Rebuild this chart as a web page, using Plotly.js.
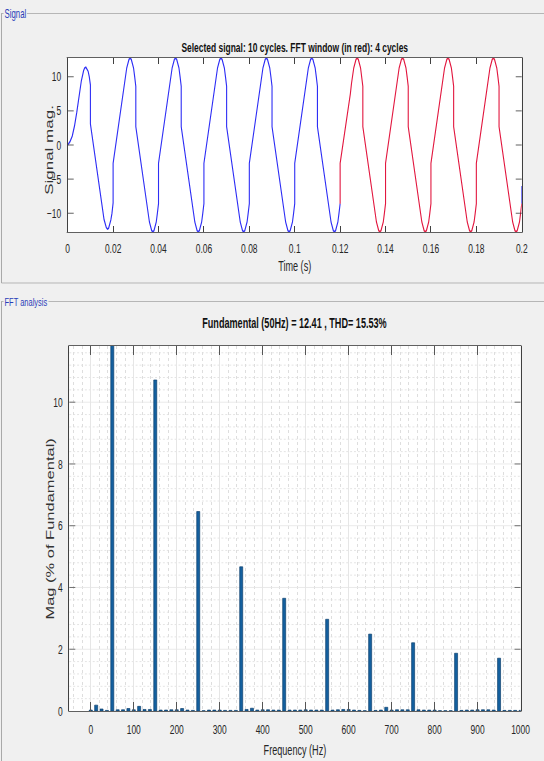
<!DOCTYPE html>
<html>
<head>
<meta charset="utf-8">
<script src="https://cdn.plot.ly/plotly-3.0.1.min.js"></script>
<style>
  html, body { margin: 0; padding: 0; background: #f0f0f0; overflow: hidden; width: 544px; height: 761px; }
  /* the figure is laid out wide and compressed horizontally, giving the condensed GUI look */
  #fig { width: 837px; height: 761px; transform: scaleX(0.65); transform-origin: 0 0; }
</style>
</head>
<body>
<div id="fig"></div>
<script>
// ---- signal (10 cycles of 50 Hz), sampled points incl. the steps at each half cycle ----
const timeS = [
  0, 0.001, 0.002, 0.003, 0.004, 0.0045, 0.005, 0.006, 0.007, 0.0075, 0.008, 0.009, 0.0095, 0.01, 0.01, 0.0145, 0.015, 0.016, 0.017, 0.0175, 0.018, 0.019, 0.0195,
  0.02, 0.02, 0.0245, 0.025, 0.026, 0.027, 0.0275, 0.028, 0.029, 0.0295, 0.03, 0.03, 0.0345, 0.035, 0.036, 0.037, 0.0375, 0.038, 0.039, 0.0395,
  0.04, 0.04, 0.0445, 0.045, 0.046, 0.047, 0.0475, 0.048, 0.049, 0.0495, 0.05, 0.05, 0.0545, 0.055, 0.056, 0.057, 0.0575, 0.058, 0.059, 0.0595,
  0.06, 0.06, 0.0645, 0.065, 0.066, 0.067, 0.0675, 0.068, 0.069, 0.0695, 0.07, 0.07, 0.0745, 0.075, 0.076, 0.077, 0.0775, 0.078, 0.079, 0.0795,
  0.08, 0.08, 0.0845, 0.085, 0.086, 0.087, 0.0875, 0.088, 0.089, 0.0895, 0.09, 0.09, 0.0945, 0.095, 0.096, 0.097, 0.0975, 0.098, 0.099, 0.0995,
  0.1, 0.1, 0.1045, 0.105, 0.106, 0.107, 0.1075, 0.108, 0.109, 0.1095, 0.11, 0.11, 0.1145, 0.115, 0.116, 0.117, 0.1175, 0.118, 0.119, 0.1195,
  0.12, 0.12, 0.1245, 0.125, 0.126, 0.127, 0.1275, 0.128, 0.129, 0.1295, 0.13, 0.13, 0.1345, 0.135, 0.136, 0.137, 0.1375, 0.138, 0.139, 0.1395,
  0.14, 0.14, 0.1445, 0.145, 0.146, 0.147, 0.1475, 0.148, 0.149, 0.1495, 0.15, 0.15, 0.1545, 0.155, 0.156, 0.157, 0.1575, 0.158, 0.159, 0.1595,
  0.16, 0.16, 0.1645, 0.165, 0.166, 0.167, 0.1675, 0.168, 0.169, 0.1695, 0.17, 0.17, 0.1745, 0.175, 0.176, 0.177, 0.1775, 0.178, 0.179, 0.1795,
  0.18, 0.18, 0.1845, 0.185, 0.186, 0.187, 0.1875, 0.188, 0.189, 0.1895, 0.19, 0.19, 0.1945, 0.195, 0.196, 0.197, 0.1975, 0.198, 0.199, 0.1995,
  0.2, 0.2
];
const signalMag = [
  0, 0.5, 1.3, 2.8, 4.8, 6.0, 7.3, 9.4, 10.9, 11.3, 11.4, 10.8, 10.0, 8.8, 3.1, -7.3, -8.7, -10.9, -12.1, -12.3, -12.2, -11.0, -10.0,
  -8.5, -2.7, 7.5, 9.0, 11.3, 12.55, 12.7, 12.55, 11.3, 10.0, 8.6, 2.7, -7.5, -9.0, -11.3, -12.55, -12.7, -12.55, -11.3, -10.0,
  -8.6, -2.7, 7.5, 9.0, 11.3, 12.55, 12.7, 12.55, 11.3, 10.0, 8.6, 2.7, -7.5, -9.0, -11.3, -12.55, -12.7, -12.55, -11.3, -10.0,
  -8.6, -2.7, 7.5, 9.0, 11.3, 12.55, 12.7, 12.55, 11.3, 10.0, 8.6, 2.7, -7.5, -9.0, -11.3, -12.55, -12.7, -12.55, -11.3, -10.0,
  -8.6, -2.7, 7.5, 9.0, 11.3, 12.55, 12.7, 12.55, 11.3, 10.0, 8.6, 2.7, -7.5, -9.0, -11.3, -12.55, -12.7, -12.55, -11.3, -10.0,
  -8.6, -2.7, 7.5, 9.0, 11.3, 12.55, 12.7, 12.55, 11.3, 10.0, 8.6, 2.7, -7.5, -9.0, -11.3, -12.55, -12.7, -12.55, -11.3, -10.0,
  -8.6, -2.7, 7.5, 9.0, 11.3, 12.55, 12.7, 12.55, 11.3, 10.0, 8.6, 2.7, -7.5, -9.0, -11.3, -12.55, -12.7, -12.55, -11.3, -10.0,
  -8.6, -2.7, 7.5, 9.0, 11.3, 12.55, 12.7, 12.55, 11.3, 10.0, 8.6, 2.7, -7.5, -9.0, -11.3, -12.55, -12.7, -12.55, -11.3, -10.0,
  -8.6, -2.7, 7.5, 9.0, 11.3, 12.55, 12.7, 12.55, 11.3, 10.0, 8.6, 2.7, -7.5, -9.0, -11.3, -12.55, -12.7, -12.55, -11.3, -10.0,
  -8.6, -2.7, 7.5, 9.0, 11.3, 12.55, 12.7, 12.55, 11.3, 10.0, 8.6, 2.7, -7.5, -9.0, -11.3, -12.55, -12.7, -12.55, -11.3, -10.0,
  -8.6, -6.0
];
// FFT window: the last 4 cycles
const fftWindowStart = 0.12;
const fftWindowEnd = 0.2;

const timeTicks = [0, 0.02, 0.04, 0.06, 0.08, 0.1, 0.12, 0.14, 0.16, 0.18, 0.2];
const signalTicks = [-10, -5, 0, 5, 10];

// ---- spectrum, 12.5 Hz bins, magnitude in % of fundamental ----
const fftFreqHz = [
  0, 12.5, 25, 37.5, 50, 62.5, 75, 87.5, 100, 112.5, 125, 137.5, 150, 162.5, 175, 187.5,
  200, 212.5, 225, 237.5, 250, 262.5, 275, 287.5, 300, 312.5, 325, 337.5, 350, 362.5, 375, 387.5,
  400, 412.5, 425, 437.5, 450, 462.5, 475, 487.5, 500, 512.5, 525, 537.5, 550, 562.5, 575, 587.5,
  600, 612.5, 625, 637.5, 650, 662.5, 675, 687.5, 700, 712.5, 725, 737.5, 750, 762.5, 775, 787.5,
  800, 812.5, 825, 837.5, 850, 862.5, 875, 887.5, 900, 912.5, 925, 937.5, 950, 962.5, 975, 987.5, 1000
];
const fftMagPct = [
  0.03, 0.19, 0.065, 0.02, 100, 0.04, 0.04, 0.08, 0.04, 0.15, 0.05, 0.05, 10.72, 0.03, 0.03, 0.04,
  0.04, 0.08, 0.03, 0.02, 6.46, 0.01, 0.03, 0.03, 0.03, 0.02, 0.02, 0.02, 4.67, 0.05, 0.09, 0.03,
  0.04, 0.04, 0.03, 0.03, 3.65, 0.03, 0.03, 0.03, 0.04, 0.03, 0.03, 0.03, 2.97, 0.03, 0.04, 0.05,
  0.05, 0.03, 0.02, 0.01, 2.49, 0.02, 0.03, 0.12, 0.03, 0.04, 0.04, 0.04, 2.21, 0.04, 0.03, 0.03,
  0.03, 0.01, 0.01, 0.01, 1.87, 0.02, 0.03, 0.03, 0.04, 0.04, 0.04, 0.03, 1.71, 0.02, 0.02, 0.02, 0.02
];
const fundamentalHz = 50;
const fundamentalMag = 12.41;
const thdPct = 15.53;

// ---- layout helpers (pixel positions of the 544 x 761 window) ----
const SQUEEZE = 0.65;
const W = 544, H = 761;
const px = x => x / W;
const py = y => 1 - y / H;
const vw = w => w / SQUEEZE;          // keeps vertical strokes at their visible width

const ink = '#262626';
const family = 'Liberation Sans, Arial, sans-serif';
const tickFont = { family: family, size: 13, color: ink };
const labelFont = { family: family, size: 14, color: ink };
const yLabelFont = { family: family, size: 17, color: '#333' };

// red overlay = samples inside the FFT window; the blue trace stops where the window begins
// and only its final step after 0.2 s remains visible
const winFirst = timeS.findIndex(t => t >= fftWindowStart);
let winLast = timeS.length - 1;
while (timeS[winLast] > fftWindowEnd || (timeS[winLast] === timeS[winLast - 1])) winLast--;

const blueX = timeS.slice(0, winFirst + 1).concat([null], timeS.slice(winLast));
const blueY = signalMag.slice(0, winFirst + 1).concat([null], signalMag.slice(winLast));

const traces = [
  {
    x: blueX, y: blueY, type: 'scatter', mode: 'lines', connectgaps: false,
    line: { color: '#2e2ef5', width: 1.7 }, xaxis: 'x', yaxis: 'y', hoverinfo: 'skip'
  },
  {
    x: timeS.slice(winFirst, winLast + 1), y: signalMag.slice(winFirst, winLast + 1),
    type: 'scatter', mode: 'lines',
    line: { color: '#e2173f', width: 1.7 }, xaxis: 'x', yaxis: 'y', hoverinfo: 'skip'
  },
  {
    x: fftFreqHz, y: fftMagPct, type: 'bar', width: 7,
    marker: { color: '#14609f', line: { color: '#0b3d6b', width: 0.8 } },
    xaxis: 'x2', yaxis: 'y2', hoverinfo: 'skip'
  }
];

const boxAxis = {
  showline: true, linecolor: '#404040', mirror: 'allticks', ticks: 'inside',
  zeroline: false, tickfont: tickFont, fixedrange: true
};

const layout = {
  width: Math.round(W / SQUEEZE), height: H,
  margin: { l: 0, r: 0, t: 0, b: 0 },
  paper_bgcolor: '#f0f0f0', plot_bgcolor: '#ffffff',
  showlegend: false,
  xaxis: Object.assign({}, boxAxis, {
    domain: [px(67.7), px(521.7)], anchor: 'y', range: [0, 0.2],
    tickvals: timeTicks, ticklen: 6, tickwidth: vw(1), linewidth: 1, tickcolor: '#404040',
    showgrid: false, ticklabelstandoff: 4,
    title: { text: 'Time (s)', font: labelFont, standoff: 6 }
  }),
  yaxis: Object.assign({}, boxAxis, {
    domain: [py(232), py(58)], anchor: 'x', range: [-12.75, 12.75],
    tickvals: signalTicks, ticklen: vw(6), tickwidth: 1, linewidth: vw(1), tickcolor: '#404040',
    showgrid: false, ticklabelstandoff: 6
  }),
  xaxis2: Object.assign({}, boxAxis, {
    domain: [px(69.3), px(520.5)], anchor: 'y2', range: [-50, 1000],
    tick0: 0, dtick: 100, ticklen: 9, tickwidth: vw(1), linewidth: 1, tickcolor: '#555',
    showgrid: true, gridcolor: '#e6e6e6', gridwidth: vw(1),
    minor: { tick0: 0, dtick: 20, showgrid: true, gridcolor: '#dedede', griddash: 'dot', gridwidth: vw(1) },
    ticklabelstandoff: 6,
    title: { text: 'Frequency (Hz)', font: labelFont, standoff: 9 }
  }),
  yaxis2: Object.assign({}, boxAxis, {
    domain: [py(711), py(346)], anchor: 'x2', range: [0, 11.82],
    tick0: 0, dtick: 2, ticklen: vw(6), tickwidth: 1, linewidth: vw(1), tickcolor: '#555',
    showgrid: true, gridcolor: '#e6e6e6', gridwidth: 1,
    minor: { tick0: 0, dtick: 0.4, showgrid: true, gridcolor: '#dedede', griddash: 'dot', gridwidth: 1 },
    ticklabelstandoff: 6
  }),
  shapes: [
    // "Signal" group box
    { type: 'line', xref: 'paper', yref: 'paper', x0: px(1), x1: 1, y0: py(13.5), y1: py(13.5), line: { color: '#a9a9a9', width: 1 } },
    { type: 'line', xref: 'paper', yref: 'paper', x0: px(1.5), x1: px(1.5), y0: py(13.5), y1: py(283), line: { color: '#a9a9a9', width: vw(1) } },
    { type: 'line', xref: 'paper', yref: 'paper', x0: px(1.5), x1: 1, y0: py(283), y1: py(283), line: { color: '#a9a9a9', width: 1 } },
    // "FFT analysis" group box
    { type: 'line', xref: 'paper', yref: 'paper', x0: px(1), x1: 1, y0: py(301.5), y1: py(301.5), line: { color: '#a9a9a9', width: 1 } },
    { type: 'line', xref: 'paper', yref: 'paper', x0: px(1.5), x1: px(1.5), y0: py(301.5), y1: 0, line: { color: '#a9a9a9', width: vw(1) } }
  ],
  annotations: [
    { text: 'Signal', xref: 'paper', yref: 'paper', x: px(3), y: py(14), xanchor: 'left', yanchor: 'middle',
      showarrow: false, bgcolor: '#f0f0f0', borderpad: 1, font: { family: family, size: 12, color: '#2a3cb8' } },
    { text: 'FFT analysis', xref: 'paper', yref: 'paper', x: px(3), y: py(302), xanchor: 'left', yanchor: 'middle',
      showarrow: false, bgcolor: '#f0f0f0', borderpad: 1, font: { family: family, size: 11.5, color: '#2a3cb8' } },
    { text: 'Selected signal: 10 cycles. FFT window (in red): 4 cycles', xref: 'paper', yref: 'paper',
      x: px(294.7), y: py(47), xanchor: 'center', yanchor: 'middle', showarrow: false,
      font: { family: family, size: 13, color: '#111', weight: 'bold' } },
    { text: 'Fundamental (' + fundamentalHz + 'Hz) = ' + fundamentalMag.toFixed(2) + ' , THD= ' + thdPct.toFixed(2) + '%',
      xref: 'paper', yref: 'paper', x: px(294.9), y: py(323), xanchor: 'center', yanchor: 'middle', showarrow: false,
      font: { family: family, size: 14, color: '#111', weight: 'bold' } },
    // vertical axis labels
    { text: 'Signal mag.', xref: 'paper', yref: 'paper', x: px(49.3), y: py(150), xanchor: 'center', yanchor: 'middle',
      textangle: -90, showarrow: false, font: yLabelFont },
    { text: 'Mag (% of Fundamental)', xref: 'paper', yref: 'paper', x: px(49.5), y: py(528.5), xanchor: 'center', yanchor: 'middle',
      textangle: -90, showarrow: false, font: { family: family, size: 16.5, color: '#333' } }
  ]
};

Plotly.newPlot('fig', traces, layout, { staticPlot: true, displayModeBar: false });
</script>
</body>
</html>
